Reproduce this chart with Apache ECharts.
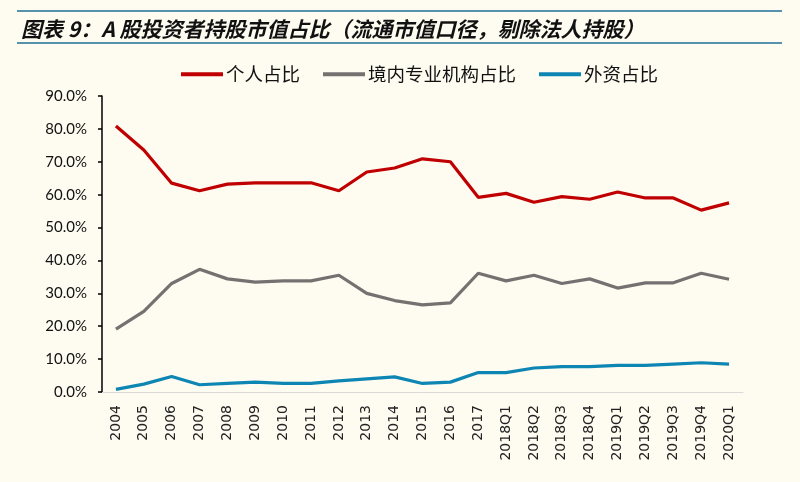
<!DOCTYPE html>
<html>
<head>
<meta charset="utf-8">
<script src="https://cdn.jsdelivr.net/npm/echarts@6/dist/echarts.min.js"></script>
<style>
  html, body { margin: 0; padding: 0; background: #FEFBF1; }
  #chart { width: 800px; height: 482px; }
</style>
</head>
<body>
<div id="chart"></div>
<script>
// Categories and series values (percent)
var categories = ['2004', '2005', '2006', '2007', '2008', '2009', '2010', '2011', '2012', '2013', '2014', '2015', '2016', '2017',
  '2018Q1', '2018Q2', '2018Q3', '2018Q4', '2019Q1', '2019Q2', '2019Q3', '2019Q4', '2020Q1'];
var individual = [80.9, 73.6, 63.5, 61.2, 63.2, 63.6, 63.6, 63.6, 61.2, 66.9, 68.1, 70.9, 70.0, 59.2,
  60.4, 57.7, 59.4, 58.6, 60.8, 59.0, 59.0, 55.3, 57.5];
var institution = [19.1, 24.5, 33.0, 37.3, 34.4, 33.4, 33.8, 33.8, 35.5, 30.0, 27.8, 26.5, 27.1, 36.1,
  33.8, 35.5, 33.0, 34.4, 31.6, 33.2, 33.2, 36.1, 34.3];
var foreign = [0.8, 2.4, 4.7, 2.2, 2.6, 3.0, 2.6, 2.6, 3.4, 4.0, 4.6, 2.6, 3.0, 5.9,
  5.9, 7.3, 7.7, 7.7, 8.1, 8.1, 8.5, 8.9, 8.5];
var seriesNames = ['个人占比', '境内专业机构占比', '外资占比'];
var seriesColors = ['#C00000', '#767171', '#0E86B4'];

var chart = echarts.init(document.getElementById('chart'));

function makeLine(name, data, color) {
  return {
    name: name,
    type: 'line',
    data: data,
    symbol: 'none',
    lineStyle: { width: 3.2, color: color },
    itemStyle: { color: color }
  };
}

var option = {
  backgroundColor: '#FEFBF1',
  animation: false,
  title: {
    text: '图表 9：A 股投资者持股市值占比（流通市值口径，剔除法人持股）',
    left: 16,
    top: 14,
    textStyle: {
      fontFamily: 'Noto Sans CJK SC',
      fontSize: 21,
      fontWeight: 'bold',
      fontStyle: 'italic',
      color: '#111'
    }
  },
  graphic: [
    { type: 'line', shape: { x1: 17, y1: 11, x2: 782, y2: 11 }, style: { stroke: '#1F6F95', lineWidth: 1.5 } },
    { type: 'line', shape: { x1: 17, y1: 43, x2: 782, y2: 43 }, style: { stroke: '#1F6F95', lineWidth: 1.5 } }
  ],
  legend: {
    top: 60,
    left: 176,
    icon: 'rect',
    itemWidth: 42,
    itemHeight: 4,
    itemGap: 23,
    textStyle: { fontFamily: 'Noto Sans CJK SC', fontSize: 18.5, color: '#111', padding: [0, 0, 0, -2] },
    data: seriesNames
  },
  grid: { left: 102, right: 57, top: 96, bottom: 90 },
  xAxis: {
    type: 'category',
    data: categories,
    boundaryGap: true,
    axisLine: { lineStyle: { color: '#D9D9D9', width: 1 } },
    axisTick: { show: false },
    axisLabel: {
      rotate: 90,
      interval: 0,
      margin: 13,
      fontFamily: 'DejaVu Sans',
      fontSize: 14,
      color: '#222'
    }
  },
  yAxis: {
    type: 'value',
    min: 0,
    max: 90,
    interval: 10,
    splitLine: { show: false },
    axisLine: { show: true, lineStyle: { color: '#000', width: 1.5 } },
    axisTick: { show: true, inside: false, length: 4, lineStyle: { color: '#000', width: 1.5 } },
    axisLabel: {
      margin: 15,
      fontFamily: 'Lato',
      fontSize: 15,
      color: '#111',
      formatter: function (v) { return v.toFixed(1) + '%'; }
    }
  },
  series: [
    makeLine(seriesNames[0], individual, seriesColors[0]),
    makeLine(seriesNames[1], institution, seriesColors[1]),
    makeLine(seriesNames[2], foreign, seriesColors[2])
  ]
};

chart.setOption(option);
</script>
</body>
</html>
